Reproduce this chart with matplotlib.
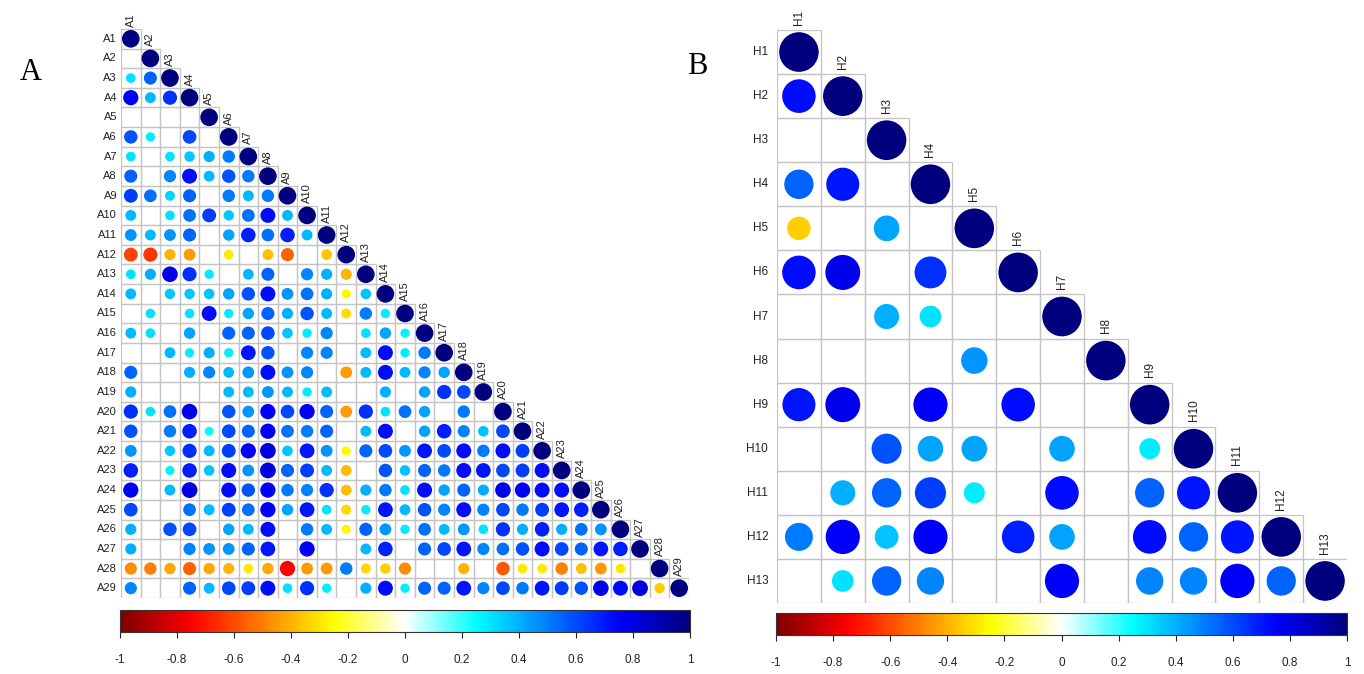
import numpy as np
import matplotlib
matplotlib.use("Agg")
import matplotlib.pyplot as plt
from matplotlib.colors import LinearSegmentedColormap, Normalize
from matplotlib.patches import Circle, Rectangle
from matplotlib.cm import ScalarMappable

nan = np.nan

# panel A: lower triangle (row i, columns 1..i-1), blank = not significant
labels_a = [f"A{i}" for i in range(1, 30)]
rows_a = [
    [nan],
    [0.30, 0.55],
    [0.75, 0.38, 0.65],
    [nan, nan, nan, nan],
    [0.58, 0.28, nan, 0.60, nan],
    [0.30, nan, 0.30, 0.35, 0.40, 0.50],
    [0.55, nan, 0.48, 0.72, 0.38, 0.58, 0.50],
    [0.62, 0.52, 0.32, 0.55, nan, 0.50, 0.38, 0.50],
    [0.38, nan, 0.30, 0.52, 0.62, 0.35, 0.52, 0.72, 0.38],
    [0.45, 0.38, 0.45, 0.55, nan, 0.42, 0.68, 0.52, 0.68, 0.38],
    [-0.62, -0.65, -0.40, -0.45, nan, -0.30, nan, -0.38, -0.55, nan, -0.37],
    [0.30, 0.40, 0.78, 0.65, 0.28, nan, 0.38, 0.55, nan, 0.48, 0.40, -0.40],
    [0.38, nan, 0.35, 0.35, 0.36, 0.42, 0.58, 0.72, 0.45, 0.52, 0.40, -0.27, 0.36],
    [nan, 0.30, nan, 0.30, 0.72, 0.28, 0.42, 0.55, 0.40, 0.58, 0.38, -0.32, 0.50, 0.28],
    [0.38, 0.30, nan, 0.42, nan, 0.55, 0.55, 0.60, 0.36, 0.28, 0.48, nan, 0.30, 0.42, 0.27],
    [nan, nan, 0.38, 0.28, 0.40, 0.28, 0.70, 0.58, nan, 0.48, 0.48, nan, 0.38, 0.72, 0.28, 0.50],
    [0.55, nan, nan, 0.40, 0.48, 0.38, 0.45, 0.72, 0.45, 0.48, nan, -0.45, 0.38, 0.72, 0.38, 0.48,
     0.42],
    [0.40, nan, nan, nan, nan, 0.38, 0.38, 0.45, 0.38, 0.28, 0.38, nan, nan, 0.40, nan, 0.42,
     0.65, 0.60],
    [0.65, 0.30, 0.52, 0.78, nan, 0.58, 0.45, 0.75, 0.60, 0.75, 0.55, -0.45, 0.65, 0.30, 0.52,
     0.42, nan, 0.50, nan],
    [0.58, nan, 0.50, 0.68, 0.25, 0.60, 0.55, 0.75, 0.52, 0.50, 0.55, nan, 0.38, 0.72, nan,
     0.42, 0.68, 0.48, 0.36, 0.60],
    [0.45, nan, 0.35, 0.65, 0.38, 0.62, 0.75, 0.80, 0.36, 0.70, 0.45, -0.27, 0.55, 0.60, 0.45,
     0.70, 0.60, 0.72, 0.50, 0.72, 0.62],
    [0.68, nan, 0.27, 0.68, 0.36, 0.72, 0.45, 0.80, 0.55, 0.62, 0.38, -0.38, nan, 0.58, 0.36,
     0.55, 0.50, 0.72, 0.70, 0.60, 0.62, 0.72],
    [0.75, nan, 0.38, 0.80, nan, 0.72, 0.58, 0.75, 0.50, 0.48, 0.65, -0.38, 0.40, 0.50, 0.30,
     0.72, 0.42, 0.55, 0.40, 0.78, 0.75, 0.72, 0.72],
    [0.60, nan, nan, 0.52, 0.38, 0.62, 0.52, 0.75, 0.42, 0.70, 0.30, -0.33, 0.28, 0.70, 0.38,
     0.58, 0.48, 0.72, 0.48, 0.60, 0.50, 0.62, 0.70, 0.68],
    [0.40, nan, 0.58, 0.60, nan, 0.42, 0.38, 0.72, nan, 0.50, 0.38, -0.27, 0.55, 0.45, 0.28,
     0.52, 0.38, 0.45, 0.30, 0.65, 0.40, 0.68, 0.40, 0.52, 0.45],
    [0.40, nan, nan, 0.48, 0.45, 0.45, 0.55, 0.70, nan, 0.75, nan, nan, 0.38, 0.68, nan,
     0.55, 0.60, 0.70, 0.48, 0.52, 0.58, 0.72, 0.60, 0.55, 0.70, 0.68],
    [-0.48, -0.50, -0.42, -0.55, -0.42, -0.40, -0.30, -0.42, -0.75, -0.45, -0.45, 0.50, -0.33,
     -0.35, -0.48, nan, nan, -0.40, nan, -0.58, -0.30, -0.30, -0.50, -0.38, -0.45, -0.30, nan],
    [0.48, nan, nan, 0.55, 0.38, 0.60, 0.62, 0.72, 0.30, 0.65, 0.28, nan, 0.40, 0.72, 0.28,
     0.55, 0.55, 0.70, 0.48, 0.60, 0.50, 0.70, 0.62, 0.58, 0.78, 0.72, 0.80, -0.35],
]

# panel B
labels_b = [f"H{i}" for i in range(1, 14)]
rows_b = [
    [0.72],
    [nan, nan],
    [0.55, 0.70, nan],
    [-0.35, nan, 0.42, nan],
    [0.72, 0.78, nan, 0.65, nan],
    [nan, nan, 0.40, 0.30, nan, nan],
    [nan, nan, nan, nan, 0.45, nan, nan],
    [0.70, 0.78, nan, 0.75, nan, 0.72, nan, nan],
    [nan, nan, 0.58, 0.42, 0.42, nan, 0.42, nan, 0.28],
    [nan, 0.40, 0.55, 0.62, 0.28, nan, 0.72, nan, 0.55, 0.70],
    [0.50, 0.75, 0.36, 0.75, nan, 0.68, 0.42, nan, 0.72, 0.55, 0.70],
    [nan, 0.30, 0.55, 0.48, nan, nan, 0.75, nan, 0.48, 0.48, 0.75, 0.55],
]

cbar_ticks = [-1, -0.8, -0.6, -0.4, -0.2, 0, 0.2, 0.4, 0.6, 0.8, 1]
cbar_ticklabels = ["-1", "-0.8", "-0.6", "-0.4", "-0.2", "0", "0.2", "0.4", "0.6", "0.8", "1"]

cmap = LinearSegmentedColormap.from_list(
    "corr", ["#7F0000", "red", "#FF7F00", "yellow", "white", "cyan", "#007FFF", "blue", "#00007F"], N=200)
norm = Normalize(-1, 1)

W, H = 1364, 674


def build_matrix(rows):
    n = len(rows) + 1
    m = np.eye(n)
    for i, r in enumerate(rows, start=1):
        m[i, :i] = r
    return m


def px_axes(fig, x0, y0, x1, y1):
    """axes from pixel box (top-left origin)"""
    return fig.add_axes([x0 / W, 1 - y1 / H, (x1 - x0) / W, (y1 - y0) / H])


def draw_corr(ax, m, labels, fs):
    n = len(labels)
    for i in range(n):
        for j in range(i + 1):
            ax.add_patch(Rectangle((j, i), 1, 1, fill=False, ec="#c4c4c4", lw=0.9))
            v = m[i, j]
            if np.isnan(v):
                continue
            ax.add_patch(Circle((j + 0.5, i + 0.5), 0.45 * np.sqrt(abs(v)),
                                color=cmap(norm(v)), lw=0))
    for i, lab in enumerate(labels):
        ax.text(-0.2, i + 0.5, lab, ha="right", va="center", fontsize=fs, color="#222222")
        ax.text(i + 0.5, i - 0.12, lab, ha="center", va="bottom", rotation=90,
                fontsize=fs, color="#222222")
    ax.set_xlim(0, n)
    ax.set_ylim(n, 0)
    ax.axis("off")


def draw_cbar(fig, cax):
    cb = fig.colorbar(ScalarMappable(norm=norm, cmap=cmap), cax=cax, orientation="horizontal")
    cb.set_ticks(cbar_ticks)
    cb.set_ticklabels(cbar_ticklabels)
    cb.outline.set_linewidth(0.8)
    cb.outline.set_edgecolor("#333333")
    cax.tick_params(axis="x", length=4, width=0.8, pad=12, labelsize=8.5, colors="#222222")


plt.rcParams["font.family"] = ["Liberation Sans", "DejaVu Sans"]
fig = plt.figure(figsize=(W / 100, H / 100), dpi=100)

ax_a = px_axes(fig, 121, 29, 689, 598)
draw_corr(ax_a, build_matrix(rows_a), labels_a, 8)

ax_b = px_axes(fig, 777, 30, 1347, 603)
draw_corr(ax_b, build_matrix(rows_b), labels_b, 8.5)

draw_cbar(fig, px_axes(fig, 120, 610, 690, 632))
draw_cbar(fig, px_axes(fig, 776, 613, 1347, 635))

fig.text(20 / W, 1 - 72 / H, "A", fontsize=22, family="Liberation Serif", va="center", ha="left")
fig.text(687 / W, 1 - 66 / H, "B", fontsize=22, family="Liberation Serif", va="center", ha="left")

fig.savefig("out.png", dpi=100)
